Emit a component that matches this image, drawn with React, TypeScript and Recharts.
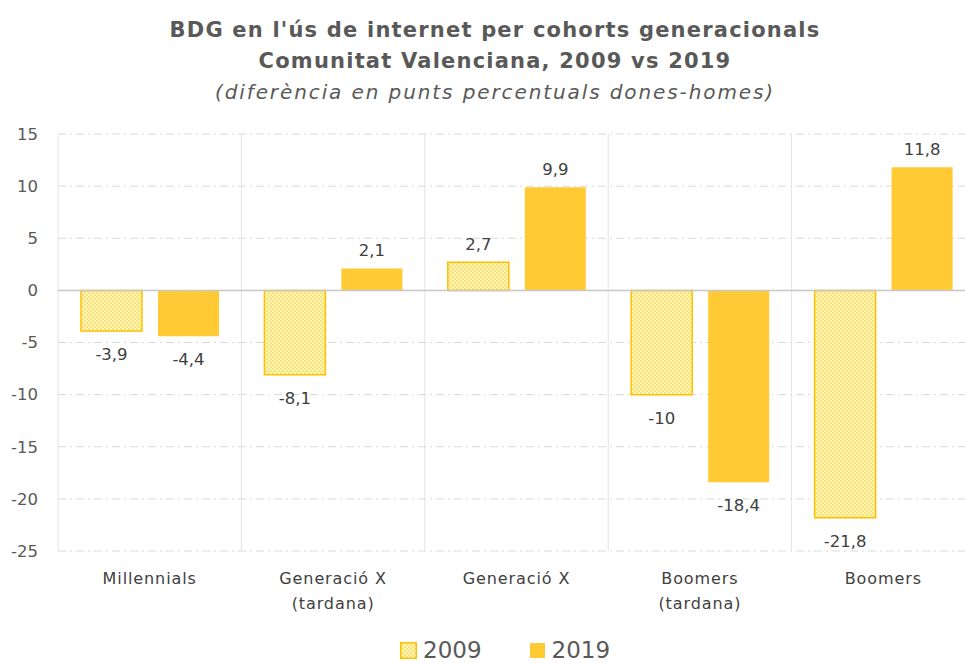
import React from 'react';
import { BarChart, Bar, XAxis, YAxis, CartesianGrid, ReferenceLine, LabelList } from 'recharts';

const cohorts = ['Millennials', 'Generació X\n(tardana)', 'Generació X', 'Boomers\n(tardana)', 'Boomers'];
const values2009 = [-3.9, -8.1, 2.7, -10, -21.8];
const values2019 = [-4.4, 2.1, 9.9, -18.4, 11.8];
const yTicks = [-25, -20, -15, -10, -5, 0, 5, 10, 15];

const data = cohorts.map((name, i) => ({ name, y2009: values2009[i], y2019: values2019[i] }));

const FONT = '"DejaVu Sans", sans-serif';
const TEXT = '#595959';
const GOLD = '#FFC000';
const SOLID = '#FFCA33';

const fmt = (v: number) => String(v).replace('.', ',');

const CategoryTick = (props: any) => {
  const { x, y, payload } = props;
  const lines = String(payload.value).split('\n');
  return (
    <text x={x} y={y + 25} textAnchor="middle" fill="#404040" fontSize={16} letterSpacing={0.9} fontFamily={FONT}>
      {lines.map((l, i) => (
        <tspan key={i} x={x} dy={i === 0 ? 0 : 25}>{l}</tspan>
      ))}
    </text>
  );
};

const ValueLabel = (props: any) => {
  const { x, y, width, height, value } = props;
  const top = Math.min(y, y + height);
  const bottom = Math.max(y, y + height);
  const cx = x + width / 2;
  const ty = value >= 0 ? top - 12 : bottom + 29;
  return (
    <text x={cx} y={ty} textAnchor="middle" fill="#404040" fontSize={16.5} fontFamily={FONT}>
      {fmt(value)}
    </text>
  );
};

export default function App() {
  return (
    <div style={{ position: 'absolute', left: 0, top: 0, width: 965, height: 663, overflow: 'hidden', background: '#fff' }}>
      <div style={{ position: 'absolute', left: 0, top: 15, width: 990, textAlign: 'center', color: TEXT, fontFamily: FONT }}>
        <div style={{ fontWeight: 'bold', fontSize: 21, lineHeight: '31px', letterSpacing: 1.2 }}>BDG en l'ús de internet per cohorts generacionals</div>
        <div style={{ fontWeight: 'bold', fontSize: 21, lineHeight: '31px', letterSpacing: 1.2 }}>Comunitat Valenciana, 2009 vs 2019</div>
        <div style={{ fontStyle: 'italic', fontSize: 20, lineHeight: '31px', letterSpacing: 1.9 }}>(diferència en punts percentuals dones-homes)</div>
      </div>
      <BarChart
        width={985}
        height={663}
        data={data}
        margin={{ top: 134, right: 10, bottom: 82, left: 0 }}
        barCategoryGap={23}
        barGap={16}
      >
        <defs>
          <pattern id="hatch" width={4} height={4} patternUnits="userSpaceOnUse">
            <rect width={4} height={4} fill="#FFF6B4" />
            <rect x={0} y={0} width={2} height={2} fill="#F7E27E" />
            <rect x={2} y={2} width={2} height={2} fill="#F7E27E" />
          </pattern>
        </defs>
        <CartesianGrid horizontal vertical={false} stroke="#D9D9D9" strokeDasharray="8 4 2 4" />
        <CartesianGrid
          horizontal={false}
          vertical
          stroke="#E3E3E3"
          verticalCoordinatesGenerator={({ offset }: any) =>
            cohorts.map((_, i) => offset.left + (i * offset.width) / cohorts.length)
          }
        />
        <XAxis dataKey="name" height={30} axisLine={false} tickLine={false} tick={<CategoryTick />} interval={0} />
        <YAxis
          type="number"
          domain={[-25, 15]}
          ticks={yTicks}
          width={58}
          axisLine={false}
          tickLine={false}
          tickSize={0}
          tickMargin={20}
          tick={{ fill: TEXT, fontSize: 16.5, fontFamily: FONT }}
        />
        <ReferenceLine y={0} stroke="#C8C8C8" strokeWidth={1.5} />
        <Bar dataKey="y2009" name="2009" fill="url(#hatch)" stroke={GOLD} strokeWidth={1.5} isAnimationActive={false}>
          <LabelList dataKey="y2009" content={<ValueLabel />} />
        </Bar>
        <Bar dataKey="y2019" name="2019" fill={SOLID} isAnimationActive={false}>
          <LabelList dataKey="y2019" content={<ValueLabel />} />
        </Bar>
      </BarChart>
      <div style={{ position: 'absolute', left: 400, top: 636, display: 'flex', alignItems: 'center', fontFamily: FONT, fontSize: 23, color: TEXT, lineHeight: '28px' }}>
        <svg width={17} height={17} style={{ marginRight: 6 }}>
          <rect x={0.75} y={0.75} width={15.5} height={15.5} fill="url(#hatch)" stroke={GOLD} strokeWidth={1.5} />
        </svg>
        <span>2009</span>
        <svg width={15} height={15} style={{ marginLeft: 48, marginRight: 7 }}>
          <rect x={0} y={0} width={15} height={15} fill={SOLID} />
        </svg>
        <span>2019</span>
      </div>
    </div>
  );
}
